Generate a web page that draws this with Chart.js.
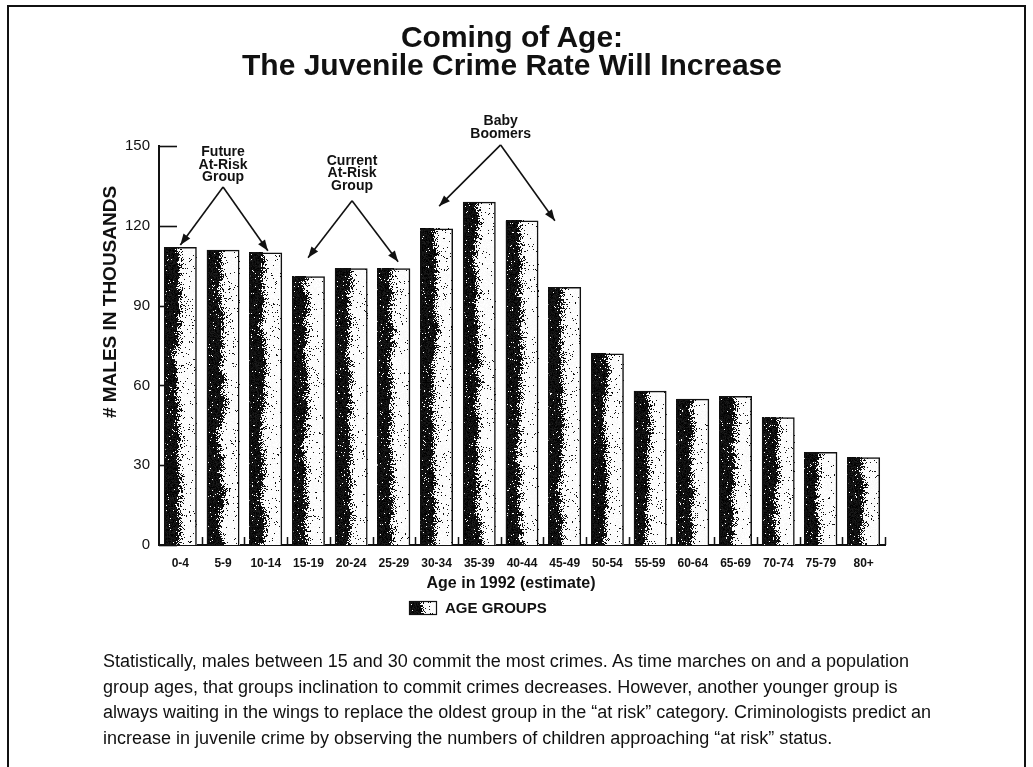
<!DOCTYPE html>
<html>
<head>
<meta charset="utf-8">
<script src="https://cdn.jsdelivr.net/npm/chart.js@4/dist/chart.umd.min.js"></script>
<style>
  html, body { margin: 0; padding: 0; background: #fff; }
  body { width: 1033px; height: 767px; position: relative; overflow: hidden; font-family: "Liberation Sans", Arial, Helvetica, sans-serif; color: #111; }
  #frame { position: absolute; left: 7px; top: 5px; width: 1019px; height: 820px; box-sizing: border-box; border: 2px solid #111; border-bottom: none; }
  #chart { position: absolute; left: 0; top: 0; }
  #title { position: absolute; left: 0; width: 1024px; top: 23px; text-align: center; font-weight: bold; font-size: 30px; line-height: 28px; }
  #note { position: absolute; left: 103px; top: 649px; font-size: 18px; line-height: 25.5px; white-space: nowrap; }
</style>
</head>
<body>
<div id="frame"></div>
<canvas id="chart" width="1033" height="767"></canvas>
<div id="title">Coming of Age:<br>The Juvenile Crime Rate Will Increase</div>
<div id="note">Statistically, males between 15 and 30 commit the most crimes. As time marches on and a population<br>group ages, that groups inclination to commit crimes decreases. However, another younger group is<br>always waiting in the wings to replace the oldest group in the “at risk” category. Criminologists predict an<br>increase in juvenile crime by observing the numbers of children approaching “at risk” status.</div>
<script>
// Age groups (1992 estimate) and male population, in thousands
const ageGroups = ['0-4', '5-9', '10-14', '15-19', '20-24', '25-29', '30-34', '35-39', '40-44',
                   '45-49', '50-54', '55-59', '60-64', '65-69', '70-74', '75-79', '80+'];
const malesThousands = [112, 111, 110, 101, 104, 104, 119, 129, 122, 97, 72, 58, 55, 56, 48, 35, 33];
const yTickValues = [0, 30, 60, 90, 120, 150];
const seriesLabel = 'AGE GROUPS';
const xTitle = 'Age in 1992 (estimate)';
const yTitle = '# MALES IN THOUSANDS';

// Callouts: apex and arrow tips given as (category index, value)
const calloutLines = [['Future', 'At-Risk', 'Group'], ['Current', 'At-Risk', 'Group'], ['Baby', 'Boomers']];
const calloutApex = [[1.0, 134.6], [4.02, 129.4], [7.5, 150.4]];
const calloutTips = [[[0.0, 112.8], [2.05, 110.6]], [[2.99, 108], [5.1, 106.5]], [[6.06, 127.4], [8.77, 121.9]]];
const calloutGap = [10, 15, 11];

const FONT = '"Liberation Sans", Arial, Helvetica, sans-serif';
const INK = '#111';

function mulberry32(a) {
  return function () {
    a |= 0; a = a + 0x6D2B79F5 | 0;
    let t = Math.imul(a ^ a >>> 15, 1 | a);
    t = t + Math.imul(t ^ t >>> 7, 61 | t) ^ t;
    return ((t ^ t >>> 14) >>> 0) / 4294967296;
  };
}

// Darkness across a bar: solid on the left, fading to a sparse speckle on the right
function density(t) {
  if (t < 0.36) return 0.97;
  if (t < 0.5) return 0.97 - (t - 0.36) / 0.14 * 0.67;
  if (t < 0.62) return 0.3 - (t - 0.5) / 0.12 * 0.25;
  return 0.035;
}

// Fill a rectangle with a stippled left-to-right shading
function stipple(ctx, x, y, w, h, seed) {
  w = Math.round(w); h = Math.round(h);
  if (w <= 0 || h <= 0) return;
  const off = document.createElement('canvas');
  off.width = w; off.height = h;
  const o = off.getContext('2d');
  const img = o.createImageData(w, h);
  const rnd = mulberry32(seed);
  let wobble = 0;
  for (let r = 0; r < h; r++) {
    wobble += (rnd() - 0.5) * 0.06; wobble *= 0.93;
    for (let c = 0; c < w; c++) {
      const t = (c + 0.5) / w + wobble;
      const dark = rnd() < density(t);
      const v = dark ? Math.floor(rnd() * 30) : 255 - Math.floor(rnd() * 8);
      const i = (r * w + c) * 4;
      img.data[i] = img.data[i + 1] = img.data[i + 2] = v;
      img.data[i + 3] = 255;
    }
  }
  o.putImageData(img, 0, 0);
  ctx.drawImage(off, Math.round(x), Math.round(y));
}

function arrow(ctx, x0, y0, x1, y1) {
  ctx.beginPath();
  ctx.moveTo(x0, y0);
  ctx.lineTo(x1, y1);
  ctx.stroke();
  const ang = Math.atan2(y1 - y0, x1 - x0);
  const len = 11, half = 4.2;
  ctx.beginPath();
  ctx.moveTo(x1, y1);
  ctx.lineTo(x1 - len * Math.cos(ang) + half * Math.sin(ang), y1 - len * Math.sin(ang) - half * Math.cos(ang));
  ctx.lineTo(x1 - len * Math.cos(ang) - half * Math.sin(ang), y1 - len * Math.sin(ang) + half * Math.cos(ang));
  ctx.closePath();
  ctx.fill();
}

const barTexture = {
  id: 'barTexture',
  beforeDatasetsDraw(chart) {
    const ctx = chart.ctx;
    chart.getDatasetMeta(0).data.forEach((bar, i) => {
      const p = bar.getProps(['x', 'y', 'base', 'width'], true);
      stipple(ctx, p.x - p.width / 2, p.y, p.width, p.base - p.y, 1000 + i * 77);
    });
  }
};

const decor = {
  id: 'decor',
  afterDraw(chart) {
    const ctx = chart.ctx;
    const xs = chart.scales.x, ys = chart.scales.y;
    const area = chart.chartArea;
    ctx.save();
    ctx.strokeStyle = INK;
    ctx.fillStyle = INK;

    // inward ticks on the value axis
    ctx.lineWidth = 1.6;
    yTickValues.forEach(v => {
      const y = Math.round(ys.getPixelForValue(v)) + 0.5;
      ctx.beginPath();
      ctx.moveTo(area.left, y);
      ctx.lineTo(area.left + 18, y);
      ctx.stroke();
    });

    // short upward marks between categories
    ctx.lineWidth = 1.5;
    for (let i = 0; i < ageGroups.length; i++) {
      const x = Math.round(xs.getPixelForValue(i + 0.5)) + 0.5;
      ctx.beginPath();
      ctx.moveTo(x, area.bottom);
      ctx.lineTo(x, area.bottom - 8);
      ctx.stroke();
    }

    // value axis title
    ctx.save();
    ctx.translate(area.left - 48, area.top + 156);
    ctx.rotate(-Math.PI / 2);
    ctx.font = 'bold 19px ' + FONT;
    ctx.textAlign = 'center';
    ctx.textBaseline = 'middle';
    ctx.fillText(yTitle, 0, 0);
    ctx.restore();

    // category axis title
    const cx = (area.left + area.right) / 2;
    ctx.font = 'bold 16px ' + FONT;
    ctx.textAlign = 'center';
    ctx.textBaseline = 'middle';
    ctx.fillText(xTitle, cx - 11, area.bottom + 39);

    // legend
    const lx = cx - 113, ly = area.bottom + 56;
    stipple(ctx, lx, ly, 28, 14, 4242);
    ctx.lineWidth = 1.2;
    ctx.strokeRect(lx + 0.5, ly + 0.5, 27, 13);
    ctx.font = 'bold 15px ' + FONT;
    ctx.textAlign = 'left';
    ctx.fillText(seriesLabel, lx + 36, ly + 7.5);

    // callouts with arrows
    ctx.lineWidth = 1.6;
    ctx.font = 'bold 14px ' + FONT;
    ctx.textAlign = 'center';
    ctx.textBaseline = 'middle';
    calloutLines.forEach((lines, k) => {
      const ax = xs.getPixelForValue(calloutApex[k][0]);
      const ay = ys.getPixelForValue(calloutApex[k][1]);
      lines.forEach((txt, j) => {
        ctx.fillText(txt, ax, ay - calloutGap[k] - (lines.length - 1 - j) * 12.3);
      });
      calloutTips[k].forEach(([ti, tv]) => {
        arrow(ctx, ax, ay, xs.getPixelForValue(ti), ys.getPixelForValue(tv));
      });
    });
    ctx.restore();
  }
};

new Chart(document.getElementById('chart'), {
  type: 'bar',
  data: {
    labels: ageGroups,
    datasets: [{
      label: seriesLabel,
      data: malesThousands,
      backgroundColor: 'rgba(0,0,0,0)',
      borderColor: INK,
      borderWidth: 1.5,
      borderSkipped: 'bottom',
      categoryPercentage: 1,
      barPercentage: 0.77
    }]
  },
  options: {
    responsive: false,
    animation: false,
    devicePixelRatio: 1,
    layout: { padding: { left: 0, top: 146, right: 148, bottom: 172 } },
    plugins: { legend: { display: false }, tooltip: { enabled: false } },
    scales: {
      x: {
        type: 'category',
        offset: true,
        grid: { display: false },
        border: { display: true, color: INK, width: 2 },
        ticks: { color: INK, font: { family: FONT, size: 12, weight: 'bold' }, padding: 3, maxRotation: 0, autoSkip: false },
        afterFit(scale) { scale.height = 50; }
      },
      y: {
        min: 0,
        max: 150,
        grid: { display: false },
        border: { display: true, color: INK, width: 2 },
        ticks: { stepSize: 30, color: INK, font: { family: FONT, size: 15 }, padding: 1 },
        afterBuildTicks(scale) { scale.ticks = yTickValues.map(v => ({ value: v })); },
        afterFit(scale) { scale.width = 159; }
      }
    }
  },
  plugins: [barTexture, decor]
});
</script>
</body>
</html>
